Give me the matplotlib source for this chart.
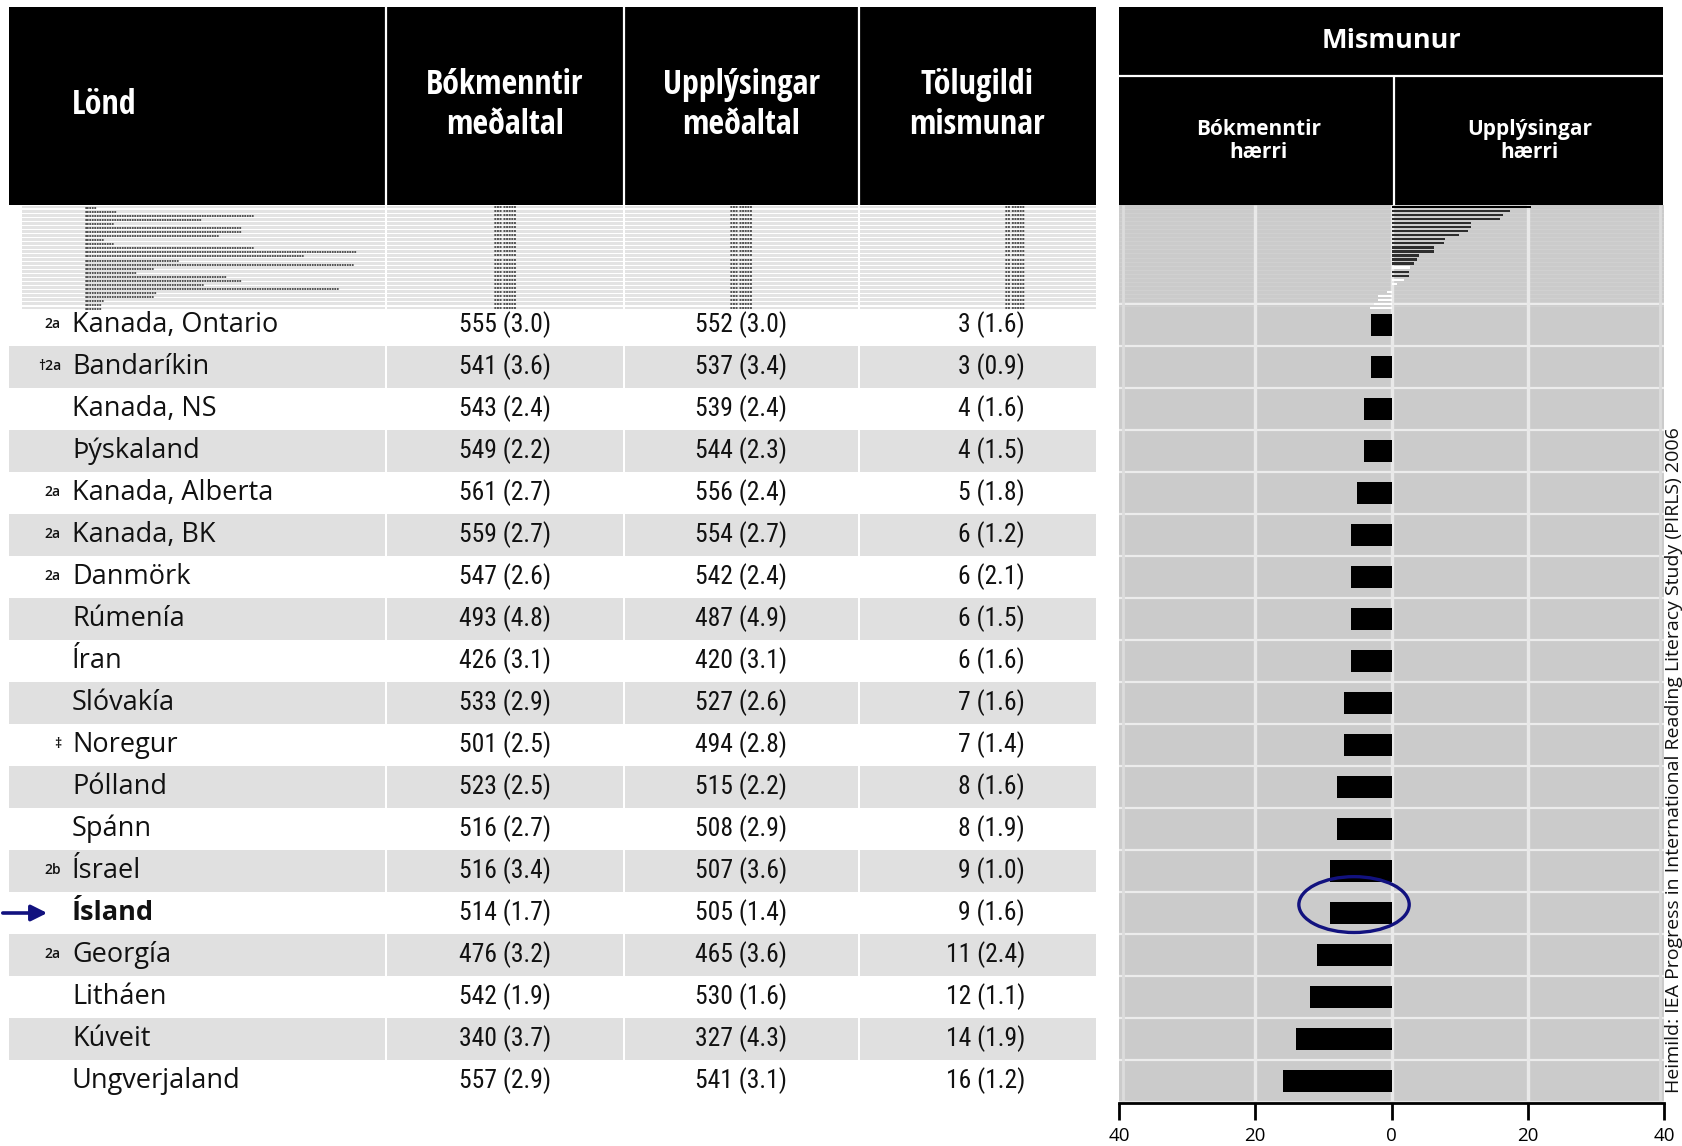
import os
import matplotlib
matplotlib.use("Agg")
import matplotlib.pyplot as plt
from matplotlib import font_manager as fm
from matplotlib.patches import Rectangle, Ellipse
import numpy as np


def pick_font(cands):
    for c in cands:
        try:
            fm.findfont(fm.FontProperties(family=c), fallback_to_default=False)
            return c
        except ValueError:
            continue
    return "DejaVu Sans"


def pick_regular_narrow(cands):
    # leita að mjóu letri í venjulegri þykkt (ekki feitletrað)
    for fam, stretch in cands:
        try:
            path = fm.findfont(fm.FontProperties(family=fam, stretch=stretch, weight="normal"),
                               fallback_to_default=False)
        except ValueError:
            continue
        fname = os.path.basename(path).lower()
        if "bold" in fname:
            continue
        if stretch != "normal" and "cond" not in fname and "narrow" not in fname:
            continue
        return fam, stretch
    return pick_font(["Roboto", "Open Sans"]), "normal"


NARROW = pick_font(["Liberation Sans Narrow", "Open Sans Condensed", "Roboto Condensed", "Open Sans"])
SANS = pick_font(["Open Sans", "Noto Sans", "DejaVu Sans"])
NUM_FAM, NUM_STRETCH = pick_regular_narrow([
    ("Liberation Sans Narrow", "normal"), ("Noto Sans Condensed", "normal"),
    ("Noto Sans SemiCondensed", "normal"), ("Noto Sans", "condensed"),
    ("Open Sans Condensed", "normal"), ("Roboto Condensed", "normal"),
    ("DejaVu Sans", "condensed"), ("Roboto", "normal")])

# ── Gögn ─────────────────────────────────────────────────────────────────────
countries = ["Kanada, Ontario", "Bandaríkin", "Kanada, NS", "Þýskaland",
             "Kanada, Alberta", "Kanada, BK", "Danmörk", "Rúmenía", "Íran",
             "Slóvakía", "Noregur", "Pólland", "Spánn", "Ísrael", "Ísland",
             "Georgía", "Litháen", "Kúveit", "Ungverjaland"]
markers = ["2a", "†2a", "", "", "2a", "2a", "2a", "", "", "", "‡", "", "",
           "2b", "", "2a", "", "", ""]
lit_mean = [555, 541, 543, 549, 561, 559, 547, 493, 426, 533, 501, 523, 516,
            516, 514, 476, 542, 340, 557]
lit_se = [3.0, 3.6, 2.4, 2.2, 2.7, 2.7, 2.6, 4.8, 3.1, 2.9, 2.5, 2.5, 2.7,
          3.4, 1.7, 3.2, 1.9, 3.7, 2.9]
inf_mean = [552, 537, 539, 544, 556, 554, 542, 487, 420, 527, 494, 515, 508,
            507, 505, 465, 530, 327, 541]
inf_se = [3.0, 3.4, 2.4, 2.3, 2.4, 2.7, 2.4, 4.9, 3.1, 2.6, 2.8, 2.2, 2.9,
          3.6, 1.4, 3.6, 1.6, 4.3, 3.1]
diff = [3, 3, 4, 4, 5, 6, 6, 6, 6, 7, 7, 8, 8, 9, 9, 11, 12, 14, 16]
diff_se = [1.6, 0.9, 1.6, 1.5, 1.8, 1.2, 2.1, 1.5, 1.6, 1.6, 1.4, 1.6, 1.9,
           1.0, 1.6, 2.4, 1.1, 1.9, 1.2]
HIGHLIGHT = "Ísland"

# efri hluti töflunnar (samþjappaður, ólæsilegur) – mismunur áætlaður af mynd
upper_diff = [20.5, 17.4, 16.3, 15.9, 11.6, 11.6, 11.2, 9.9, 7.9, 7.7, 6.2,
              6.2, 4.0, 3.7, 3.3, 2.7, 2.6, 2.6, 1.8, 0.8, 0.0, -0.7, -2.0,
              -2.0, -2.6, -3.1]
upper_sig = [1] * 15 + [0, 1, 1] + [0] * 8
upper_name_len = [11, 30, 150, 105, 27, 140, 140, 120, 18, 27, 150, 240, 195,
                  84, 238, 62, 48, 127, 140, 107, 225, 66, 62, 18, 16, 16]

xticks = [-40, -20, 0, 20, 40]
xtick_labels = ["40", "20", "0", "20", "40"]
source = "Heimild: IEA Progress in International Reading Literacy Study (PIRLS) 2006"

# ── Útlit ────────────────────────────────────────────────────────────────────
W, H = 1683, 1146
ROW, Y0 = 42.0, 325.0           # línuhæð og miðja fyrstu línu (px)


def ry(px):
    return (px - Y0) / ROW


GRAY_ROW = "#e0e0e0"
PANEL = "#cbcbcb"
NAVY = "#12127f"
COLS = [(9, 385), (387, 623), (625, 858), (860, 1096)]

fig = plt.figure(figsize=(W / 100, H / 100), dpi=100)
fig.patch.set_facecolor("white")
renderer = fig.canvas.get_renderer()


def fit_size(text, target_px, **props):
    # stillir leturstærð svo textinn verði jafnbreiður og í fyrirmyndinni
    t = fig.text(0, 0, text, fontsize=20, **props)
    w = t.get_window_extent(renderer).width
    t.remove()
    return 20 * target_px / w


NUM_SIZE = min(21, fit_size("555 (3.0)", 92, family=NUM_FAM, fontstretch=NUM_STRETCH))
NUM = dict(fontsize=NUM_SIZE, family=NUM_FAM, fontstretch=NUM_STRETCH,
           color="#111111", va="center")

ax = fig.add_axes([0, 0, 1, 1])
ax.set_xlim(0, W)
ax.set_ylim(ry(H), ry(0))
ax.axis("off")

# haus vinstri töflu
ax.add_patch(Rectangle((9, ry(7)), 1096 - 9, ry(205) - ry(7), color="black", lw=0))
ax.vlines([386, 624, 859], ry(7), ry(205), color="white", lw=1.6)
hdr = dict(color="white", fontsize=24.5, fontweight="bold", family=NARROW,
           va="center", linespacing=1.2)
ax.text(72, ry(105), "Lönd", ha="left", **hdr)
ax.text(505, ry(105), "Bókmenntir\nmeðaltal", ha="center", **hdr)
ax.text(741, ry(105), "Upplýsingar\nmeðaltal", ha="center", **hdr)
ax.text(977, ry(105), "Tölugildi\nmismunar", ha="center", **hdr)

# haus hægri hluta
ax.add_patch(Rectangle((1119, ry(7)), 1663 - 1119, ry(205) - ry(7), color="black", lw=0))
ax.hlines(ry(76), 1119, 1663, color="white", lw=1.6)
ax.vlines(1394, ry(76), ry(205), color="white", lw=1.6)
ax.text(1391, ry(41), "Mismunur", ha="center", va="center", color="white",
        fontsize=19.5, fontweight="bold", family=SANS)
ax.text(1259, ry(141), "Bókmenntir\nhærri", ha="center", va="center", color="white",
        fontsize=15, fontweight="bold", family=SANS, linespacing=1.15)
ax.text(1530, ry(141), "Upplýsingar\nhærri", ha="center", va="center", color="white",
        fontsize=15, fontweight="bold", family=SANS, linespacing=1.15)

# samþjappaði hlutinn
n_up = len(upper_diff)
cr = (ry(310) - ry(205)) / n_up
up_y = ry(205) + (np.arange(n_up) + 0.5) * cr
for k, yk in enumerate(up_y):
    for x0, x1 in COLS:
        ax.add_patch(Rectangle((max(x0, 22), yk - 0.36 * cr), x1 - max(x0, 22),
                               0.72 * cr, color="#e3e3e3", lw=0))
    ax.text(85, yk, "▪" * max(2, int(upper_name_len[k] / 2.2)), fontsize=2.6,
            color="#555555", ha="left", va="center")
    ax.text(505, yk, "▪▪▪ ▪▪▪▪▪", fontsize=2.8, color="#555555", ha="center", va="center")
    ax.text(741, yk, "▪▪▪ ▪▪▪▪▪", fontsize=2.8, color="#555555", ha="center", va="center")
    ax.text(1025, yk, "▪▪ ▪▪▪▪▪", fontsize=2.8, color="#555555", ha="right", va="center")

# meginlínur
for i, name in enumerate(countries):
    if i % 2 == 1:
        for x0, x1 in COLS:
            ax.add_patch(Rectangle((x0, i - 0.49), x1 - x0, 0.98, color=GRAY_ROW, lw=0))
    bold = "bold" if name == HIGHLIGHT else "normal"
    if markers[i]:
        ax.text(61, i - 0.03, markers[i], ha="right", va="center", fontsize=10,
                family=SANS, fontweight="semibold", color="#111111")
    ax.text(72, i, name, ha="left", va="center", fontsize=19.5, family=SANS,
            fontweight=bold, color="#111111")
    ax.text(505, i, f"{lit_mean[i]} ({lit_se[i]:.1f})", ha="center", **NUM)
    ax.text(741, i, f"{inf_mean[i]} ({inf_se[i]:.1f})", ha="center", **NUM)
    ax.text(1025, i, f"{diff[i]} ({diff_se[i]:.1f})", ha="right", **NUM)

# ör að Íslandi
hi = countries.index(HIGHLIGHT)
ax.annotate("", xy=(50, hi), xytext=(0, hi),
            arrowprops=dict(arrowstyle="-|>", color=NAVY, lw=2.6, mutation_scale=24))

# heimild – á myndinni sjálfri svo súluritið hylji hana ekki
fig.text(1674 / W, 1 - 1093 / H, source, rotation=90, rotation_mode="anchor",
         ha="left", va="center", fontsize=14, family=SANS, color="#111111", zorder=10)

# ── Súlurit ──────────────────────────────────────────────────────────────────
axb = fig.add_axes([1119 / W, 1 - 1103 / H, (1664 - 1119) / W, (1103 - 205) / H])
axb.set_facecolor(PANEL)
axb.set_xlim(-40, 40)
axb.set_ylim(ry(1103), ry(205))

axb.hlines(up_y[:-1] + cr / 2, -40, 40, color="#d3d3d3", lw=0.5)
axb.hlines(np.arange(len(countries)) - 0.5, -40, 40, color="#ececec", lw=1.6)
axb.hlines(len(countries) - 0.5, -40, 40, color="#e4e4e4", lw=1.6)
axb.vlines([-20, 0, 20], ry(205), ry(1101), color="#e9e9e9", lw=2.4)
axb.vlines([-39.4, 39.4], ry(205), ry(1101), color="#dcdcdc", lw=2.0)

up_colors = ["#2e2e2e" if s else "white" for s in upper_sig]
up_colors[0] = "black"
axb.barh(up_y, upper_diff, height=0.55 * cr, color=up_colors, lw=0, zorder=3)
axb.barh(np.arange(len(countries)), [-d for d in diff], height=0.52,
         color="black", lw=0, zorder=3)

axb.add_patch(Ellipse((-5.5, hi - 0.2), 16.2, 1.33, fill=False, ec=NAVY, lw=2.4,
                      zorder=4, clip_on=False))

for s in ["top", "left", "right"]:
    axb.spines[s].set_visible(False)
axb.spines["bottom"].set_linewidth(2)
axb.set_yticks([])
axb.set_xticks(xticks)
axb.set_xticklabels(xtick_labels, fontsize=13.5, family=SANS)
axb.tick_params(axis="x", direction="out", length=12, width=2, pad=5)

fig.savefig("out.png", dpi=100)
